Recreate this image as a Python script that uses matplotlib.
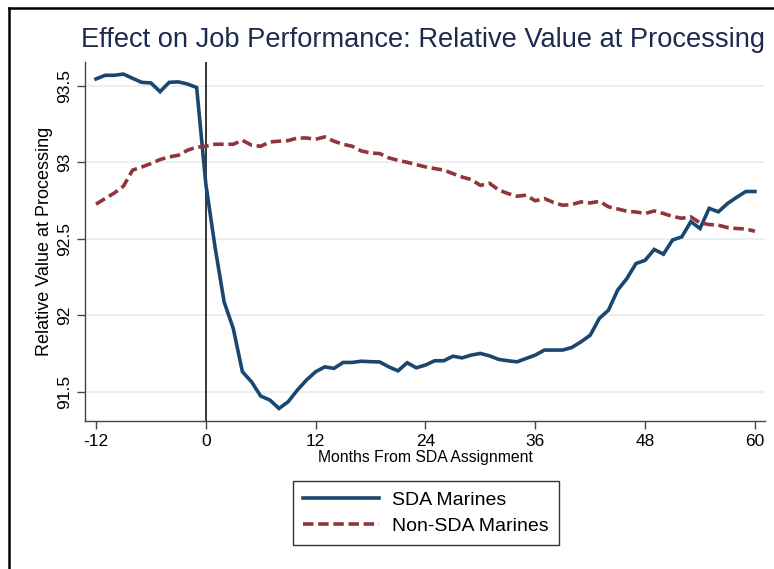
#!/usr/bin/env python3
"""SDA vs Non-SDA Marines: relative value at processing by month."""

import matplotlib
matplotlib.use('Agg')
import matplotlib.pyplot as plt
from matplotlib.lines import Line2D

months = list(range(-12, 61))

sda_marines = [
    93.546, 93.570, 93.570, 93.578, 93.550, 93.524, 93.520, 93.463, 93.524, 93.527,
    93.513, 93.490, 92.860, 92.450, 92.088, 91.914, 91.631, 91.565, 91.472, 91.446,
    91.391, 91.435, 91.511, 91.577, 91.631, 91.663, 91.653, 91.692, 91.692, 91.700,
    91.697, 91.695, 91.663, 91.637, 91.690, 91.657, 91.675, 91.703, 91.703, 91.733,
    91.722, 91.740, 91.751, 91.735, 91.712, 91.703, 91.696, 91.718, 91.740, 91.773,
    91.773, 91.773, 91.790, 91.827, 91.870, 91.980, 92.034, 92.165, 92.240, 92.339,
    92.360, 92.431, 92.400, 92.493, 92.513, 92.613, 92.568, 92.700, 92.677, 92.731,
    92.772, 92.810, 92.810,
]

non_sda_marines = [
    92.727, 92.764, 92.800, 92.845, 92.950, 92.970, 92.993, 93.019, 93.036, 93.047,
    93.080, 93.100, 93.106, 93.119, 93.119, 93.119, 93.145, 93.113, 93.106, 93.134,
    93.139, 93.143, 93.160, 93.160, 93.152, 93.167, 93.139, 93.119, 93.106, 93.075,
    93.062, 93.058, 93.030, 93.014, 93.001, 92.986, 92.971, 92.960, 92.950, 92.927,
    92.905, 92.888, 92.850, 92.864, 92.820, 92.797, 92.779, 92.786, 92.749, 92.764,
    92.738, 92.720, 92.725, 92.742, 92.735, 92.746, 92.710, 92.696, 92.681, 92.676,
    92.666, 92.683, 92.666, 92.647, 92.635, 92.644, 92.605, 92.594, 92.590, 92.574,
    92.568, 92.565, 92.550,
]

x_ticks = [-12, 0, 12, 24, 36, 48, 60]
y_ticks = [91.5, 92, 92.5, 93, 93.5]
y_tick_labels = ['91.5', '92', '92.5', '93', '93.5']

plt.rcParams['font.family'] = ['Liberation Sans', 'DejaVu Sans']

W, H = 774, 569
fig = plt.figure(figsize=(W / 100, H / 100), dpi=100)
ax = fig.add_axes([85 / W, 1 - 421 / H, (765 - 85) / W, (421 - 62) / H])

blue = '#1a476f'
red = '#90353b'
dash = (0, (2.9, 1.3))

ax.plot(months, sda_marines, color=blue, lw=2.6, solid_joinstyle='miter',
        label='SDA Marines', zorder=3)
ax.plot(months, non_sda_marines, color=red, lw=2.6, linestyle=dash,
        label='Non-SDA Marines', zorder=3)
ax.axvline(0, color='black', lw=1.1, zorder=2)

ax.set_xlim(-13.2, 61.1)
ax.set_ylim(91.309, 93.657)
ax.set_xticks(x_ticks)
ax.set_xticklabels([str(t) for t in x_ticks], fontsize=12.5)
ax.set_yticks(y_ticks)
ax.set_yticklabels(y_tick_labels, fontsize=12.5, rotation=90, va='center')
ax.yaxis.grid(True, color='#e6eef0', lw=1.2)
ax.set_axisbelow(True)
ax.tick_params(direction='out', length=6, width=1, color='#444444', pad=3)

for side in ['top', 'right']:
    ax.spines[side].set_visible(False)
for side in ['left', 'bottom']:
    ax.spines[side].set_color('#444444')
    ax.spines[side].set_linewidth(1)

ax.set_xlabel('Months From SDA Assignment', fontsize=11.3, labelpad=1)
ax.set_ylabel('Relative Value at Processing', fontsize=13, labelpad=3)

fig.text(81 / W, 1 - 40 / H, 'Effect on Job Performance: Relative Value at Processing',
         fontsize=19.6, color='#1c2b4d', ha='left', va='center')

handles = [Line2D([0], [0], color=blue, lw=2.6),
           Line2D([0], [0], color=red, lw=2.6, linestyle=dash)]
leg = fig.legend(handles, ['SDA Marines', 'Non-SDA Marines'],
                 loc='center', bbox_to_anchor=(426 / W, 1 - 513 / H),
                 fontsize=14, frameon=True, fancybox=False, handlelength=3.9,
                 borderpad=0.5, labelspacing=0.45, handletextpad=0.7,
                 borderaxespad=0)
leg.get_frame().set_edgecolor('black')
leg.get_frame().set_linewidth(1)

# outer graph frame (cropped on right and bottom)
fig.add_artist(Line2D([9 / W, 9 / W], [0, 1 - 8 / H], color='black', lw=1.8,
                      transform=fig.transFigure))
fig.add_artist(Line2D([9 / W, 1], [1 - 8 / H, 1 - 8 / H], color='black', lw=1.8,
                      transform=fig.transFigure))

fig.savefig('out.png', dpi=100)
